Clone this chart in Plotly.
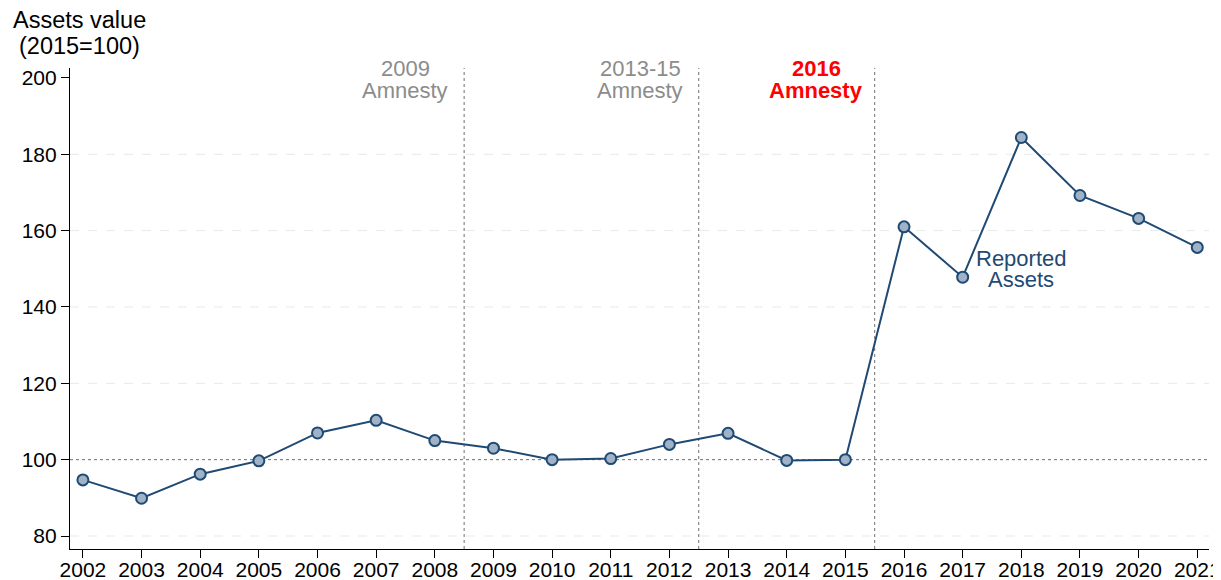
import plotly.graph_objects as go

years = list(range(2002, 2022))
assets = [94.7, 89.9, 96.2, 99.7, 107.0, 110.3, 105.0, 103.0, 100.0, 100.3,
          104.0, 106.9, 99.8, 100.0, 161.0, 147.8, 184.4, 169.2, 163.2, 155.6]
y_ticks = [80, 100, 120, 140, 160, 180, 200]
amnesty_lines = [2008.5, 2012.5, 2015.5]
amnesty_line1 = ["2009", "2013-15", "<b>2016</b>"]
amnesty_line2 = ["Amnesty", "Amnesty", "<b>Amnesty</b>"]
amnesty_label_x = [2007.5, 2011.5, 2014.5]
amnesty_colors = ["#8c8c8c", "#8c8c8c", "#ff0000"]

line_col = "#1f4a73"
FONT = "Liberation Sans, Arial, sans-serif"

fig = go.Figure()
fig.add_trace(go.Scatter(
    x=years, y=assets, mode="lines+markers",
    line=dict(color=line_col, width=2),
    marker=dict(size=11, color="#a0b2c7", line=dict(color=line_col, width=2)),
    showlegend=False, cliponaxis=False))

# dashed gridlines
for v in [80, 120, 140, 160, 180]:
    fig.add_shape(type="line", xref="paper", x0=0, x1=1, yref="y", y0=v, y1=v,
                  line=dict(color="#e3ebed", width=1, dash="dash"), layer="below")
# dotted reference line at 100
fig.add_shape(type="line", xref="paper", x0=0, x1=1, yref="y", y0=100, y1=100,
              line=dict(color="#6f6f6f", width=1, dash="dot"), layer="below")
for xv in amnesty_lines:
    fig.add_shape(type="line", xref="x", x0=xv, x1=xv, yref="paper", y0=0, y1=1,
                  line=dict(color="#6f6f6f", width=1, dash="dot"), layer="below")

for l1, l2, xv, col in zip(amnesty_line1, amnesty_line2, amnesty_label_x, amnesty_colors):
    fig.add_annotation(x=xv, y=1.0, xref="x", yref="paper", text=l1, showarrow=False,
                       font=dict(size=22, color=col, family=FONT), yanchor="middle")
    fig.add_annotation(x=xv, y=0.954, xref="x", yref="paper", text=l2, showarrow=False,
                       font=dict(size=22, color=col, family=FONT), yanchor="middle")

fig.add_annotation(x=2018.0, y=152.8, xref="x", yref="y", text="Reported",
                   showarrow=False, font=dict(size=22, color=line_col, family=FONT))
fig.add_annotation(x=2018.0, y=147.1, xref="x", yref="y", text="Assets",
                   showarrow=False, font=dict(size=22, color=line_col, family=FONT))

fig.add_annotation(x=-0.0515, y=1.0998, xref="paper", yref="paper",
                   text="Assets value", showarrow=False, xanchor="left", yanchor="middle",
                   font=dict(size=23.5, color="black", family=FONT))
fig.add_annotation(x=-0.0462, y=1.0457, xref="paper", yref="paper",
                   text="(2015=100)", showarrow=False, xanchor="left", yanchor="middle",
                   font=dict(size=23.5, color="black", family=FONT))

fig.update_layout(
    width=1213, height=572,
    margin=dict(l=62, r=12, t=60, b=31),
    plot_bgcolor="white", paper_bgcolor="white",
    font=dict(family=FONT, size=21, color="black"),
    xaxis=dict(range=[2001.78, 2021.2], tickmode="array", tickvals=years,
               ticktext=[str(y) for y in years], showgrid=False, zeroline=False,
               showline=True, linecolor="black", linewidth=1.2, automargin=False,
               ticks="outside", ticklen=8, tickcolor="black", ticklabelstandoff=-6),
    yaxis=dict(range=[76.6, 202.6], tickmode="array", tickvals=y_ticks,
               showgrid=False, zeroline=False, showline=True, linecolor="black",
               linewidth=1.2, automargin=False,
               ticks="outside", ticklen=8, tickcolor="black"),
)

fig.write_html("out.html")
